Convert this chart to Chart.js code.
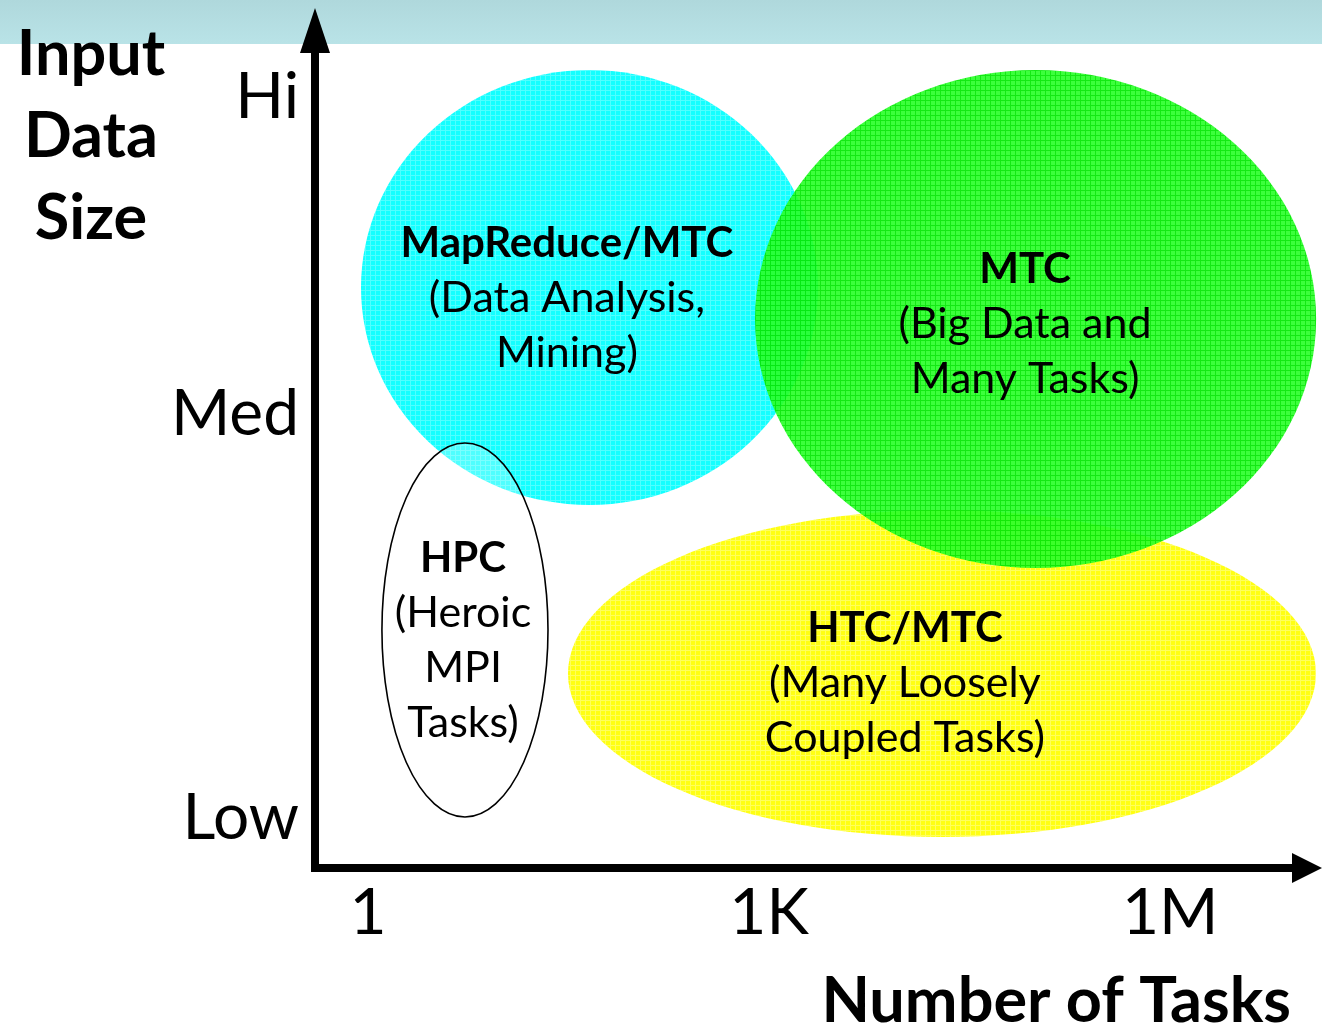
<!DOCTYPE html>
<html>
<head>
<meta charset="utf-8">
<style>
  html, body { margin: 0; padding: 0; background: #fff; }
  #wrap { width: 1322px; height: 1030px; }
</style>
<script src="https://cdn.jsdelivr.net/npm/chart.js@4.4.1/dist/chart.umd.min.js"></script>
</head>
<body>
<div id="wrap"><canvas id="chart" width="1322" height="1030"></canvas></div>
<script>
// x = log10(number of tasks), y = input data size level
const xTickValues = [0, 3, 6];
const xTickLabels = ['1', '1K', '1M'];
const yTickValues = [0.5, 4.54, 7.71];
const yTickLabels = ['Low', 'Med', 'Hi'];

// regions, in draw order
const regionTitles = ['MapReduce/MTC', 'HTC/MTC', 'MTC', 'HPC'];
const regionLines = [
  ['(Data Analysis,', 'Mining)'],
  ['(Many Loosely', 'Coupled Tasks)'],
  ['(Big Data and', 'Many Tasks)'],
  ['(Heroic', 'MPI', 'Tasks)']
];
const centerX = [1.657, 4.293, 4.993, 0.7255];
const centerY = [5.805, 1.945, 5.49, 2.38];
const radiusX = [1.709, 2.797, 2.098, 0.621];
const radiusY = [2.175, 1.635, 2.49, 1.87];
const labelX = [1.488, 4.016, 4.914, 0.711];
const labelY = [6.25, 2.40, 5.99, 3.10];

const fillBase = ['#00ffff', '#ffff00', '#2cff2c', null];
const fillGrid = ['#40ffff', '#ffff50', '#00e800', null];

const FONT = 'Lato, "Open Sans", sans-serif';

function gridPattern(ctx, base, line) {
  const c = document.createElement('canvas');
  c.width = 5; c.height = 5;
  const g = c.getContext('2d');
  g.fillStyle = base; g.fillRect(0, 0, 5, 5);
  g.fillStyle = line; g.fillRect(0, 0, 5, 1); g.fillRect(0, 0, 1, 5);
  return ctx.createPattern(c, 'repeat');
}

const diagramPlugin = {
  id: 'diagram',
  beforeDraw(chart) {
    const ctx = chart.ctx;
    ctx.save();
    ctx.fillStyle = '#fff';
    ctx.fillRect(0, 0, chart.width, chart.height);
    const grad = ctx.createLinearGradient(0, 0, 0, 44);
    grad.addColorStop(0, '#afd8dc');
    grad.addColorStop(1, '#b9e3e7');
    ctx.fillStyle = grad;
    ctx.fillRect(0, 0, chart.width, 44);
    ctx.restore();
  },
  beforeDatasetsDraw(chart) {
    const ctx = chart.ctx, xs = chart.scales.x, ys = chart.scales.y;
    ctx.save();
    regionTitles.forEach((t, i) => {
      const cx = xs.getPixelForValue(centerX[i]);
      const cy = ys.getPixelForValue(centerY[i]);
      const rx = Math.abs(xs.getPixelForValue(centerX[i] + radiusX[i]) - cx);
      const ry = Math.abs(ys.getPixelForValue(centerY[i] + radiusY[i]) - cy);
      ctx.beginPath();
      ctx.ellipse(cx, cy, rx, ry, 0, 0, Math.PI * 2);
      if (fillBase[i]) {
        ctx.globalAlpha = 0.92;
        ctx.fillStyle = gridPattern(ctx, fillBase[i], fillGrid[i]);
        ctx.fill();
        ctx.globalAlpha = 1;
      } else {
        ctx.fillStyle = 'rgba(255,255,255,0.25)';
        ctx.fill();
        ctx.lineWidth = 1.6;
        ctx.strokeStyle = '#000';
        ctx.stroke();
      }
    });
    ctx.restore();
  },
  afterDraw(chart) {
    const ctx = chart.ctx, xs = chart.scales.x, ys = chart.scales.y;
    const area = chart.chartArea;
    const ox = area.left, oy = area.bottom;
    ctx.save();
    // axes with arrows
    ctx.strokeStyle = '#000';
    ctx.fillStyle = '#000';
    ctx.lineWidth = 8;
    ctx.beginPath();
    ctx.moveTo(ox, oy + 4); ctx.lineTo(ox, 50);
    ctx.moveTo(ox - 4, oy); ctx.lineTo(1295, oy);
    ctx.stroke();
    ctx.beginPath();
    ctx.moveTo(ox, 8); ctx.lineTo(ox - 15, 53); ctx.lineTo(ox + 15, 53); ctx.closePath();
    ctx.fill();
    ctx.beginPath();
    ctx.moveTo(1322, oy); ctx.lineTo(1292, oy - 15); ctx.lineTo(1292, oy + 15); ctx.closePath();
    ctx.fill();

    // region labels
    ctx.textAlign = 'center';
    ctx.textBaseline = 'middle';
    regionTitles.forEach((t, i) => {
      const x = xs.getPixelForValue(labelX[i]);
      const y = ys.getPixelForValue(labelY[i]);
      ctx.font = 'bold 42px ' + FONT;
      ctx.fillText(t, x, y);
      ctx.font = '43px ' + FONT;
      regionLines[i].forEach((line, j) => ctx.fillText(line, x, y + 55 * (j + 1)));
    });

    // axis titles
    ctx.font = 'bold 63px ' + FONT;
    ['Input', 'Data', 'Size'].forEach((w, j) => ctx.fillText(w, 91, 55 + 82 * j));
    ctx.textAlign = 'right';
    ctx.fillText('Number of Tasks', 1291, 1002);
    ctx.restore();
  }
};

new Chart(document.getElementById('chart'), {
  type: 'scatter',
  data: {
    datasets: regionTitles.map((t, i) => ({
      label: t,
      data: [{ x: centerX[i], y: centerY[i] }],
      pointRadius: 0
    }))
  },
  options: {
    responsive: false,
    animation: false,
    events: [],
    layout: { padding: 0 },
    plugins: { legend: { display: false }, tooltip: { enabled: false } },
    scales: {
      x: {
        type: 'linear',
        min: -0.396,
        max: 7.135,
        grid: { display: false, drawTicks: false },
        border: { display: false },
        afterBuildTicks(scale) { scale.ticks = xTickValues.map(v => ({ value: v })); },
        afterFit(scale) { scale.height = 162; scale.paddingLeft = 0; scale.paddingRight = 0; },
        ticks: {
          color: '#000',
          font: { family: FONT, size: 64 },
          padding: 7,
          maxRotation: 0,
          autoSkip: false,
          callback: (v) => xTickLabels[xTickValues.indexOf(v)]
        }
      },
      y: {
        type: 'linear',
        min: 0,
        max: 8.68,
        grid: { display: false, drawTicks: false },
        border: { display: false },
        afterBuildTicks(scale) { scale.ticks = yTickValues.map(v => ({ value: v })); },
        afterFit(scale) { scale.width = 315; scale.paddingTop = 0; scale.paddingBottom = 0; },
        ticks: {
          color: '#000',
          font: { family: FONT, size: 64 },
          padding: 16,
          autoSkip: false,
          callback: (v) => yTickLabels[yTickValues.indexOf(v)]
        }
      }
    }
  },
  plugins: [diagramPlugin]
});
</script>
</body>
</html>
